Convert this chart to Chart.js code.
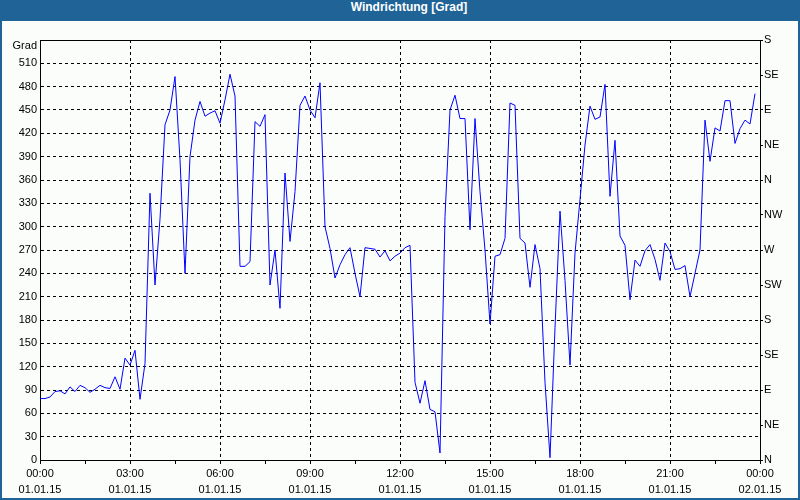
<!DOCTYPE html>
<html>
<head>
<meta charset="utf-8">
<script src="https://cdn.jsdelivr.net/npm/chart.js"></script>
<style>
  html, body { margin: 0; padding: 0; }
  body { width: 800px; height: 500px; background: #1f6397; position: relative; overflow: hidden; }
  #title { position: absolute; left: 0; top: 0; width: 782px; padding-left: 18px; height: 21px; line-height: 20px;
           color: #fff; font: bold 12px "Liberation Sans", Arial, sans-serif; text-align: center; }
  #box { position: absolute; left: 2px; top: 21px; width: 796px; height: 477px; background: #fbfdfb; }
</style>
</head>
<body>
<div id="title">Windrichtung [Grad]</div>
<div id="box"><canvas id="chartWind" width="796" height="477"></canvas></div>
<script>
// Windrichtung in Grad, ein Wert alle 10 Minuten (00:00 - 23:50)
const windDir = [
  79, 79, 81, 88, 89, 85, 94, 88, 96, 93, 87, 91, 96, 93, 92, 107, 91, 131,
  122, 141, 78, 124, 343, 225, 310, 431, 450, 493, 386, 240, 390, 437, 461, 442,
  446, 449, 433, 463, 496, 468, 249, 249, 255, 435, 429, 444, 225, 270, 195, 369,
  281, 345, 456, 468, 450, 440, 485, 300, 272, 234, 251, 264, 273, 240, 210, 273,
  272, 271, 261, 269, 256, 262, 266, 273, 276, 100, 73, 102, 65, 62, 9, 313,
  450, 469, 439, 439, 296, 439, 345, 270, 175, 262, 264, 285, 459, 456, 285, 279,
  222, 277, 246, 100, 3, 170, 320, 231, 122, 266, 335, 405, 455, 438, 441, 483,
  339, 411, 288, 276, 206, 257, 249, 269, 277, 258, 231, 279, 268, 245, 246, 250,
  210, 240, 270, 437, 384, 427, 423, 462, 462, 407, 426, 437, 432, 471
];
const sampleMinutes = windDir.map((v, i) => i * 10);

const hourLabels = ['00:00', '03:00', '06:00', '09:00', '12:00', '15:00', '18:00', '21:00', '00:00'];
const dateLabels = ['01.01.15', '01.01.15', '01.01.15', '01.01.15', '01.01.15', '01.01.15', '01.01.15', '01.01.15', '02.01.15'];
const compassLabels = ['N', 'NE', 'E', 'SE', 'S', 'SW', 'W', 'NW', 'N', 'NE', 'E', 'SE', 'S'];

Chart.defaults.font.family = '"Liberation Sans", Arial, sans-serif';
Chart.defaults.font.size = 11;
Chart.defaults.color = '#000';

// Rahmen oben um die Zeichenfläche und Achsentitel "Grad"
const framePlugin = {
  id: 'frame',
  afterDraw(chart) {
    const { ctx, chartArea } = chart;
    ctx.save();
    ctx.strokeStyle = '#000';
    ctx.lineWidth = 1;
    ctx.beginPath();
    ctx.moveTo(chartArea.left, Math.round(chartArea.top) + 0.5);
    ctx.lineTo(chartArea.right, Math.round(chartArea.top) + 0.5);
    ctx.stroke();
    ctx.fillStyle = '#000';
    ctx.font = '11px "Liberation Sans", Arial, sans-serif';
    ctx.textAlign = 'right';
    ctx.textBaseline = 'middle';
    ctx.fillText('Grad', chartArea.left - 3, chartArea.top + 6);
    ctx.restore();
  }
};

const ctx = document.getElementById('chartWind').getContext('2d');
new Chart(ctx, {
  type: 'line',
  data: {
    datasets: [{
      label: 'Windrichtung',
      data: windDir.map((v, i) => ({ x: sampleMinutes[i], y: v })),
      borderColor: '#0000ff',
      borderWidth: 1,
      pointRadius: 0,
      tension: 0,
      fill: false
    }]
  },
  options: {
    responsive: false,
    animation: false,
    layout: { padding: { top: 19, left: 0, right: 0, bottom: 0 } },
    plugins: { legend: { display: false }, tooltip: { enabled: false } },
    scales: {
      x: {
        type: 'linear',
        min: 0,
        max: 1440,
        afterFit(scale) { scale.height = 38; },
        ticks: {
          stepSize: 90,
          autoSkip: false,
          maxRotation: 0,
          padding: 2,
          font: { lineHeight: 1.45 },
          callback: (value) => value % 180 === 0 ? [hourLabels[value / 180], dateLabels[value / 180]] : ''
        },
        grid: {
          color: (c) => (c.tick && c.tick.value % 180 === 0 && c.tick.value > 0 && c.tick.value < 1440) ? '#000' : 'rgba(0,0,0,0)',
          tickColor: '#000',
          tickLength: 4
        },
        border: { color: '#000', width: 1, dash: [3, 3] }
      },
      y: {
        position: 'left',
        min: 0,
        max: 540,
        afterFit(scale) { scale.width = 38; },
        ticks: {
          stepSize: 30,
          autoSkip: false,
          padding: 3,
          callback: (value) => value === 540 ? '' : value
        },
        grid: { color: '#000', drawTicks: false },
        border: { color: '#000', width: 1, dash: [3, 3] }
      },
      yCompass: {
        position: 'right',
        min: 0,
        max: 540,
        afterFit(scale) { scale.width = 38; },
        ticks: {
          stepSize: 45,
          autoSkip: false,
          padding: 1,
          callback: (value) => compassLabels[value / 45]
        },
        grid: { drawOnChartArea: false, color: '#000', tickLength: 3 },
        border: { color: '#000', width: 1 }
      }
    }
  },
  plugins: [framePlugin]
});
</script>
</body>
</html>
